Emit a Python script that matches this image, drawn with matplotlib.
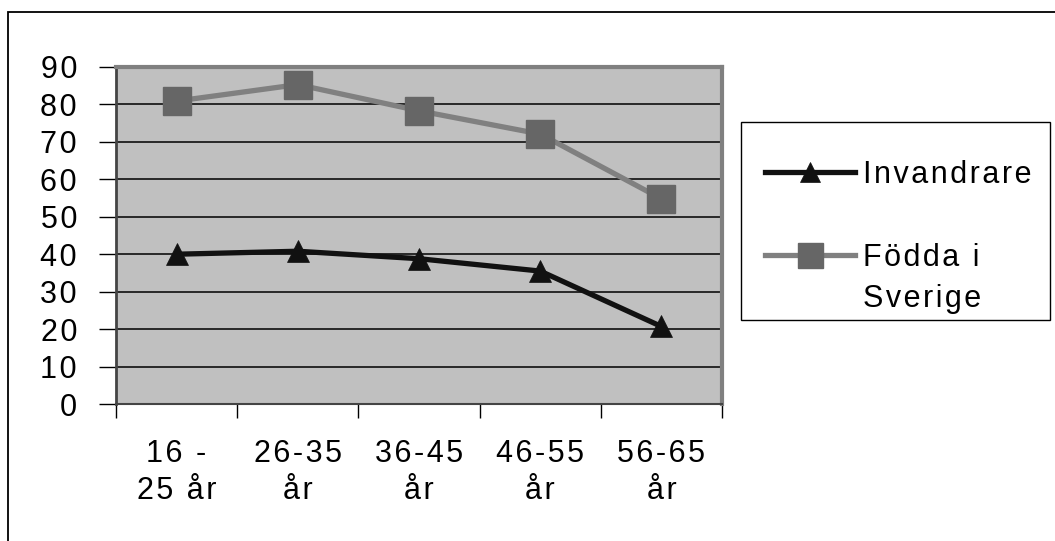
import matplotlib.pyplot as plt
from matplotlib.patches import Rectangle

plt.rcParams['font.family'] = ['Liberation Sans', 'DejaVu Sans']

# andel (%) per åldersgrupp
groups = ['16 -\n25 år', '26-35\når', '36-45\når', '46-55\når', '56-65\når']
invandrare = [40, 40.8, 38.8, 35.5, 20.7]
fodda_sverige = [80.9, 85.3, 78.3, 72.1, 54.8]

FS = 22


def spaced(s):
    # widen letter spacing with hair spaces
    return '\n'.join('\u200a'.join(line) for line in s.split('\n'))


W, H = 1055, 541
fig = plt.figure(figsize=(W / 100, H / 100), dpi=100)

# outer frame, runs off the bottom/right edge
fig.patches.append(Rectangle((8 / W, -0.1), 1.2, 1 - 12 / H + 0.1,
                             transform=fig.transFigure, fill=False,
                             edgecolor='black', linewidth=1.3))

ax = fig.add_axes([116 / W, (H - 404) / H, (722 - 116) / W, (404 - 67) / H])
ax.set_facecolor('#c0c0c0')

x = range(1, len(groups) + 1)
l1, = ax.plot(x, invandrare, '-^', color='#111111', linewidth=3.8,
              markersize=16, markeredgewidth=0.5, label=spaced('Invandrare'), zorder=4)
l2, = ax.plot(x, fodda_sverige, '-s', color='#808080', linewidth=3.8,
              markersize=20, markerfacecolor='#666666', markeredgecolor='#666666',
              label=spaced('Födda i'), zorder=3)

ax.set_xlim(0.5, 5.5)
ax.set_ylim(0, 90)
yticks = list(range(0, 91, 10))
ax.set_yticks(yticks)
ax.set_yticklabels([spaced(str(v)) for v in yticks])
ax.yaxis.grid(True, color='black', linewidth=1.1)
ax.set_axisbelow(True)

ax.set_xticks([i + 0.5 for i in range(0, 6)])
ax.set_xticklabels([])
ax.set_xticks(list(x), minor=True)
ax.set_xticklabels([spaced(g) for g in groups], minor=True, linespacing=1.3)
ax.tick_params(axis='x', which='minor', length=0, pad=25, labelsize=FS)
ax.tick_params(axis='x', which='major', length=10, width=1, direction='out')
ax.tick_params(axis='y', length=12, width=1, direction='out', pad=16, labelsize=FS)

for side in ['top', 'right']:
    ax.spines[side].set_color('#808080')
    ax.spines[side].set_linewidth(3)
ax.spines['left'].set_color('#444444')
ax.spines['left'].set_linewidth(2)
ax.spines['bottom'].set_color('#444444')
ax.spines['bottom'].set_linewidth(1.5)

# legend with a plain rectangular box
fig.patches.append(Rectangle((741 / W, (H - 320) / H), (1050 - 741) / W, (320 - 122) / H,
                             transform=fig.transFigure, fill=False,
                             edgecolor='black', linewidth=1))
leg = fig.legend(handles=[l1, l2], loc='upper left',
                 bbox_to_anchor=(765 / W, (H - 160) / H), frameon=False,
                 fontsize=FS, handlelength=2.94, handletextpad=0.26,
                 labelspacing=1.72, markerscale=0.9, borderpad=0,
                 borderaxespad=0)
fig.text(863 / W, (H - 307) / H, spaced('Sverige'), fontsize=FS, va='baseline', ha='left')

fig.savefig('out.png', dpi=100)
